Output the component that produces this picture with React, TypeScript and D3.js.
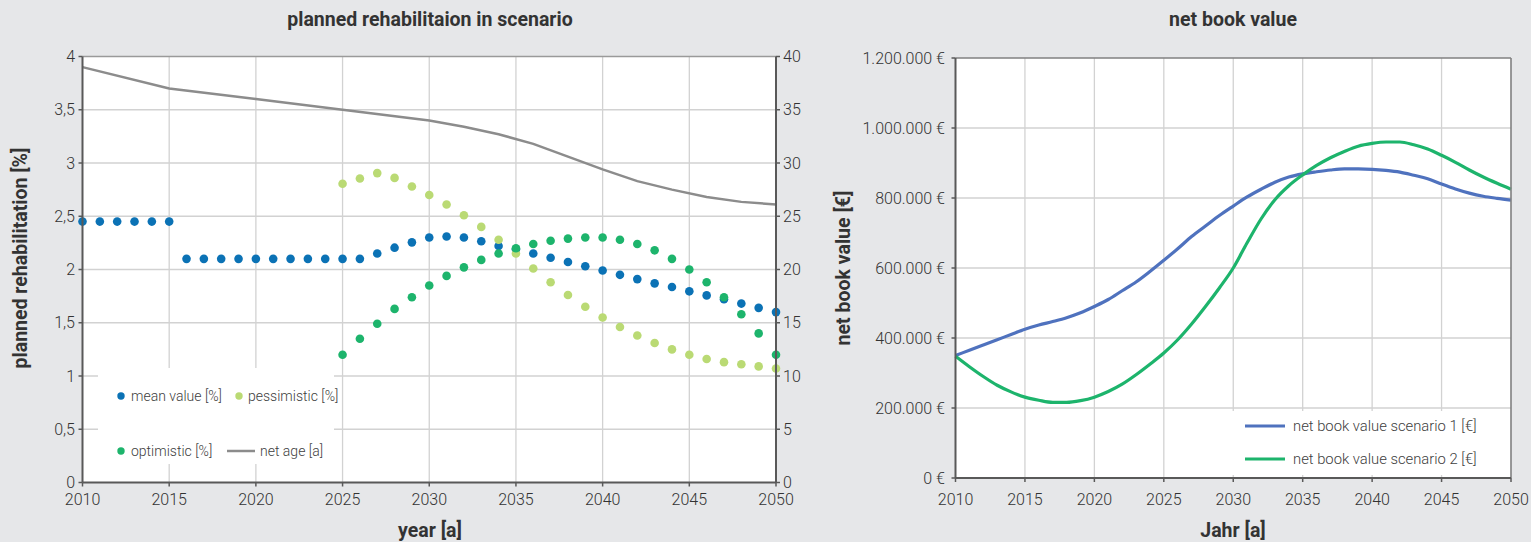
import React from "react";
import * as d3 from "d3";

// ---------- data: left chart ----------
const meanYears = d3.range(2010, 2051);
const meanValues = [
  2.45, 2.45, 2.45, 2.45, 2.45, 2.45,
  2.1, 2.1, 2.1, 2.1, 2.1, 2.1, 2.1, 2.1, 2.1, 2.1, 2.1,
  2.15, 2.205, 2.255, 2.3, 2.31, 2.3, 2.265, 2.22, 2.19, 2.15, 2.11, 2.07, 2.03,
  1.99, 1.95, 1.91, 1.87, 1.835, 1.795, 1.757, 1.72, 1.68, 1.64, 1.6,
];
const scenarioYears = d3.range(2025, 2051);
const pessimisticValues = [
  2.805, 2.855, 2.905, 2.86, 2.78, 2.7, 2.61, 2.51, 2.4, 2.28, 2.15, 2.01, 1.88,
  1.76, 1.65, 1.55, 1.46, 1.38, 1.31, 1.25, 1.2, 1.16, 1.13, 1.11, 1.09, 1.07,
];
const optimisticValues = [
  1.2, 1.35, 1.49, 1.63, 1.74, 1.85, 1.94, 2.02, 2.09, 2.15, 2.2, 2.24, 2.27,
  2.29, 2.3, 2.3, 2.28, 2.24, 2.18, 2.1, 2.0, 1.88, 1.74, 1.58, 1.4, 1.2,
];
const netAgeYears = [2010, 2015, 2020, 2025, 2030, 2032, 2034, 2036, 2038, 2040, 2042, 2044, 2046, 2048, 2050];
const netAgeValues = [39, 37, 36, 35, 34, 33.4, 32.7, 31.8, 30.6, 29.4, 28.3, 27.5, 26.8, 26.35, 26.1];

const leftYTicks = [0, 0.5, 1, 1.5, 2, 2.5, 3, 3.5, 4];
const rightYTicks = [0, 5, 10, 15, 20, 25, 30, 35, 40];
const yearTicks = [2010, 2015, 2020, 2025, 2030, 2035, 2040, 2045, 2050];

// ---------- data: right chart ----------
const bookYears = d3.range(2010, 2051);
const scenario1 = [
  350, 365, 380, 395, 410, 425, 437, 447, 458, 472, 490, 510, 535, 560, 590, 622,
  655, 690, 720, 750, 777, 803, 825, 845, 860, 869, 875, 880, 883, 883, 882, 879,
  874, 865, 855, 840, 826, 814, 805, 799, 794,
].map((v) => v * 1000);
const scenario2 = [
  348, 318, 290, 265, 246, 231, 222, 216, 216, 221, 231, 247, 268, 295, 325, 357,
  395, 440, 490, 543, 600, 672, 740, 795, 835, 866, 893, 915, 933, 948, 956, 960,
  960, 952, 940, 922, 902, 880, 860, 842, 825,
].map((v) => v * 1000);
const bookTicks = [0, 200000, 400000, 600000, 800000, 1000000, 1200000];

const BG = "#e6e7e9";
const GRID = "#d2d2d2";
const AXIS = "#595959";
const TXT = "#333333";
const FONT = "Roboto, 'Noto Sans', sans-serif";

const C_MEAN = "#0b72b5";
const C_PESS = "#bada74";
const C_OPT = "#1db46c";
const C_AGE = "#8c8c8c";
const C_S1 = "#4f72be";
const C_S2 = "#1db46c";

const deFmt = (v: number) => String(v).replace(".", ",");
const euroFmt = (v: number) =>
  (v === 0 ? "0" : d3.format(",")(v).replace(/,/g, ".")) + " €";

export default function App() {
  const xL = d3.scaleLinear().domain([2010, 2050]).range([82.5, 776]);
  const yL = d3.scaleLinear().domain([0, 4]).range([482.5, 56.5]);
  const yAge = d3.scaleLinear().domain([0, 40]).range([482.5, 56.5]);
  const xR = d3.scaleLinear().domain([2010, 2050]).range([955.5, 1511]);
  const yV = d3.scaleLinear().domain([0, 1200000]).range([478, 58]);

  const ageLine = d3
    .line<number>()
    .x((_, i) => xL(netAgeYears[i]))
    .y((d) => yAge(d));

  const bookLine = d3
    .line<number>()
    .x((_, i) => xR(bookYears[i]))
    .y((d) => yV(d))
    .curve(d3.curveMonotoneX);

  const tickFont = { fontFamily: FONT, fontSize: 16, fontWeight: 300, fill: TXT };
  const legFontL = { fontFamily: FONT, fontSize: 14, fontWeight: 300, fill: "#404040" };
  const legFontR = { fontFamily: FONT, fontSize: 14.8, fontWeight: 300, fill: "#404040" };
  const titleFont = { fontFamily: FONT, fontSize: 19.5, fontWeight: 700, fill: TXT };

  return (
    <svg
      width={1531}
      height={542}
      style={{ position: "absolute", left: 0, top: 0, display: "block" }}
    >
      <rect x={0} y={0} width={1531} height={542} fill={BG} />

      {/* ================= LEFT CHART ================= */}
      <text x={430} y={26} textAnchor="middle" {...titleFont}>
        planned rehabilitaion in scenario
      </text>
      <rect x={xL(2010)} y={yL(4)} width={xL(2050) - xL(2010)} height={yL(0) - yL(4)} fill="#fff" />
      {yearTicks.slice(1, -1).map((t) => (
        <line key={"lgx" + t} x1={xL(t)} x2={xL(t)} y1={yL(4)} y2={yL(0)} stroke={GRID} strokeWidth={1.3} />
      ))}
      {leftYTicks.slice(1).map((t) => (
        <line key={"lgy" + t} x1={xL(2010)} x2={xL(2050)} y1={yL(t)} y2={yL(t)} stroke={t === 4 ? "#9a9a9a" : GRID} strokeWidth={t === 4 ? 1.6 : 1.3} />
      ))}
      <rect x={98} y={368} width={236} height={96} fill="#fff" />
      <path d={ageLine(netAgeValues) || ""} fill="none" stroke={C_AGE} strokeWidth={2.5} />
      {meanValues.map((v, i) => (
        <circle key={"m" + i} cx={xL(meanYears[i])} cy={yL(v)} r={4.3} fill={C_MEAN} />
      ))}
      {pessimisticValues.map((v, i) => (
        <circle key={"p" + i} cx={xL(scenarioYears[i])} cy={yL(v)} r={4.3} fill={C_PESS} />
      ))}
      {optimisticValues.map((v, i) => (
        <circle key={"o" + i} cx={xL(scenarioYears[i])} cy={yL(v)} r={4.3} fill={C_OPT} />
      ))}
      <line x1={xL(2010)} x2={xL(2010)} y1={yL(4)} y2={yL(0)} stroke={AXIS} strokeWidth={2} />
      <line x1={xL(2050)} x2={xL(2050)} y1={yL(4)} y2={yL(0)} stroke={AXIS} strokeWidth={2} />
      <line x1={xL(2010)} x2={xL(2050)} y1={yL(0)} y2={yL(0)} stroke={AXIS} strokeWidth={2.2} />
      {leftYTicks.map((t) => (
        <g key={"lyt" + t}>
          <line x1={xL(2010) - 4} x2={xL(2010)} y1={yL(t)} y2={yL(t)} stroke={AXIS} strokeWidth={1.5} />
          <text x={75} y={yL(t) + 5.5} textAnchor="end" {...tickFont}>{deFmt(t)}</text>
        </g>
      ))}
      {rightYTicks.map((t) => (
        <g key={"ryt" + t}>
          <line x1={xL(2050)} x2={xL(2050) + 4} y1={yAge(t)} y2={yAge(t)} stroke={AXIS} strokeWidth={1.5} />
          <text x={783} y={yAge(t) + 5.5} textAnchor="start" {...tickFont}>{t}</text>
        </g>
      ))}
      {yearTicks.map((t) => (
        <g key={"lxt" + t}>
          <line x1={xL(t)} x2={xL(t)} y1={yL(0)} y2={yL(0) + 4} stroke={AXIS} strokeWidth={1.5} />
          <text x={xL(t)} y={505} textAnchor="middle" {...tickFont}>{t}</text>
        </g>
      ))}
      <text x={430} y={537} textAnchor="middle" {...titleFont}>
        year [a]
      </text>
      <text transform="translate(27,258) rotate(-90)" textAnchor="middle" {...titleFont}>
        planned rehabilitation [%]
      </text>
      {/* legend */}
      <circle cx={121} cy={396} r={3.7} fill={C_MEAN} />
      <text x={131} y={401} {...legFontL}>mean value [%]</text>
      <circle cx={239} cy={396} r={3.7} fill={C_PESS} />
      <text x={248} y={401} {...legFontL}>pessimistic [%]</text>
      <circle cx={121} cy={451} r={3.7} fill={C_OPT} />
      <text x={131} y={456} {...legFontL}>optimistic [%]</text>
      <line x1={227} x2={255} y1={451} y2={451} stroke={C_AGE} strokeWidth={2.5} />
      <text x={260} y={456} {...legFontL}>net age [a]</text>

      {/* ================= RIGHT CHART ================= */}
      <text x={1233} y={26} textAnchor="middle" {...titleFont}>
        net book value
      </text>
      <rect x={xR(2010)} y={yV(1200000)} width={xR(2050) - xR(2010)} height={yV(0) - yV(1200000)} fill="#fff" />
      {yearTicks.slice(1, -1).map((t) => (
        <line key={"rgx" + t} x1={xR(t)} x2={xR(t)} y1={yV(1200000)} y2={yV(0)} stroke={GRID} strokeWidth={1.3} />
      ))}
      {bookTicks.slice(1, -1).map((t) => (
        <line key={"rgy" + t} x1={xR(2010)} x2={xR(2050)} y1={yV(t)} y2={yV(t)} stroke={GRID} strokeWidth={1.3} />
      ))}
      <rect x={1231} y={411} width={276} height={64} fill="#fff" />
      <path d={bookLine(scenario1) || ""} fill="none" stroke={C_S1} strokeWidth={3.2} />
      <path d={bookLine(scenario2) || ""} fill="none" stroke={C_S2} strokeWidth={3.2} />
      <line x1={xR(2010)} x2={xR(2050)} y1={yV(1200000)} y2={yV(1200000)} stroke="#808080" strokeWidth={1.6} />
      <line x1={xR(2050)} x2={xR(2050)} y1={yV(1200000)} y2={yV(0)} stroke="#808080" strokeWidth={1.6} />
      <line x1={xR(2010)} x2={xR(2010)} y1={yV(1200000)} y2={yV(0)} stroke={AXIS} strokeWidth={2} />
      <line x1={xR(2010)} x2={xR(2050)} y1={yV(0)} y2={yV(0)} stroke={AXIS} strokeWidth={2.2} />
      {bookTicks.map((t) => (
        <g key={"byt" + t}>
          <line x1={xR(2010) - 4} x2={xR(2010)} y1={yV(t)} y2={yV(t)} stroke={AXIS} strokeWidth={1.5} />
          <text x={945} y={yV(t) + 5.5} textAnchor="end" {...tickFont}>{euroFmt(t)}</text>
        </g>
      ))}
      {yearTicks.map((t) => (
        <g key={"bxt" + t}>
          <line x1={xR(t)} x2={xR(t)} y1={yV(0)} y2={yV(0) + 4} stroke={AXIS} strokeWidth={1.5} />
          <text x={xR(t)} y={505} textAnchor="middle" {...tickFont}>{t}</text>
        </g>
      ))}
      <text x={1233} y={537} textAnchor="middle" {...titleFont}>
        Jahr [a]
      </text>
      <text transform="translate(850,268) rotate(-90)" textAnchor="middle" {...titleFont}>
        net book value [€]
      </text>
      <line x1={1245} x2={1285} y1={426} y2={426} stroke={C_S1} strokeWidth={3.2} />
      <text x={1293} y={431} {...legFontR}>net book value scenario 1 [€]</text>
      <line x1={1245} x2={1285} y1={459} y2={459} stroke={C_S2} strokeWidth={3.2} />
      <text x={1293} y={464} {...legFontR}>net book value scenario 2 [€]</text>
    </svg>
  );
}
